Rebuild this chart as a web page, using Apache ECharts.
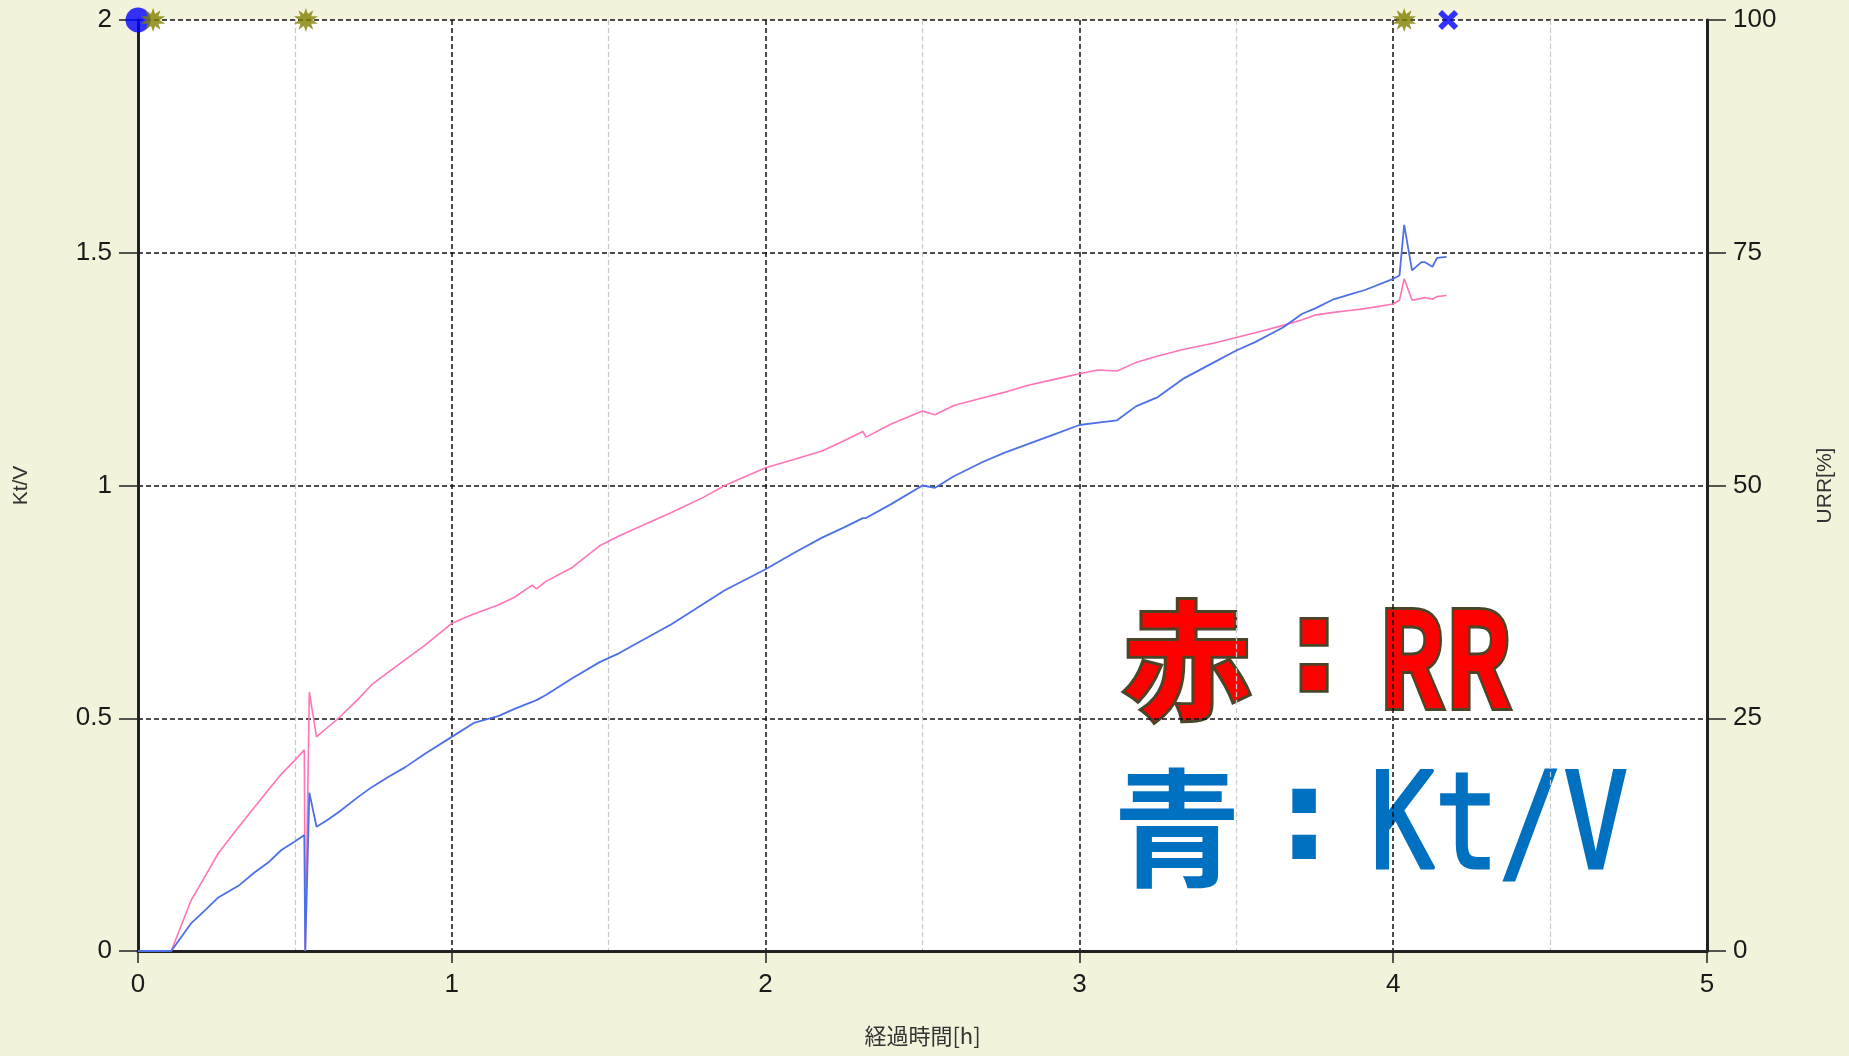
<!DOCTYPE html>
<html>
<head>
<meta charset="utf-8">
<script src="https://cdn.jsdelivr.net/npm/echarts@6/dist/echarts.min.js"></script>
<style>
  html, body { margin: 0; padding: 0; background: #f3f3dc; }
  #chart { width: 1849px; height: 1056px; }
</style>
</head>
<body>
<div id="chart"></div>
<script>
// elapsed time [h] shared by both curves
const hours = [
  0, 0.106, 0.17, 0.21, 0.256, 0.32, 0.37, 0.415, 0.457, 0.5, 0.53, 0.533, 0.546, 0.569,
  0.6, 0.639, 0.7, 0.745, 0.8, 0.852, 0.917, 1.0, 1.07, 1.15, 1.2, 1.256, 1.27, 1.3, 1.384,
  1.47, 1.534, 1.6, 1.7, 1.8, 1.87, 2.0, 2.09, 2.18, 2.25, 2.31, 2.32, 2.4, 2.5, 2.54, 2.6,
  2.69, 2.76, 2.84, 2.92, 3.0, 3.06, 3.12, 3.18, 3.25, 3.33, 3.43, 3.5, 3.56, 3.65, 3.71,
  3.75, 3.81, 3.86, 3.91, 4.0, 4.02, 4.035, 4.06, 4.09, 4.1, 4.125, 4.14, 4.17
]
// URR [%] (pink, right axis)
const rrValues = [
  0, 0, 5.5, 7.8, 10.5, 13.3, 15.4, 17.3, 19.0, 20.5, 21.6, 0, 27.8, 23.0,
  23.9, 25.0, 27.0, 28.6, 30.0, 31.3, 32.9, 35.2, 36.2, 37.2, 38.0, 39.3, 38.9, 39.7, 41.2,
  43.5, 44.6, 45.6, 47.1, 48.7, 50.0, 51.9, 52.8, 53.7, 54.8, 55.8, 55.2, 56.6, 58.0, 57.6, 58.6,
  59.4, 60.0, 60.8, 61.4, 62.0, 62.4, 62.3, 63.2, 63.9, 64.6, 65.3, 65.9, 66.4, 67.2, 67.8,
  68.3, 68.6, 68.8, 69.0, 69.5, 69.9, 72.2, 69.9, 70.1, 70.2, 70.0, 70.3, 70.4
]
// Kt/V (blue, left axis)
const ktvValues = [
  0, 0, 0.06, 0.085, 0.115, 0.14, 0.168, 0.19, 0.217, 0.235, 0.249, 0, 0.34, 0.267,
  0.28, 0.298, 0.33, 0.352, 0.375, 0.395, 0.425, 0.46, 0.49, 0.505, 0.52, 0.535, 0.539, 0.55, 0.586,
  0.62, 0.64, 0.665, 0.702, 0.745, 0.775, 0.82, 0.855, 0.888, 0.91, 0.93, 0.93, 0.96, 1.0, 0.995, 1.02,
  1.05, 1.07, 1.09, 1.11, 1.13, 1.135, 1.14, 1.17, 1.19, 1.229, 1.265, 1.29, 1.308, 1.34, 1.369,
  1.38, 1.4, 1.41, 1.42, 1.444, 1.451, 1.56, 1.462, 1.48, 1.48, 1.47, 1.489, 1.491
]
// event marks along the top edge (Kt/V = 2)
const startMark = [0]
const starMarks = [0.048, 0.535, 4.035]
const endMark = [4.175]
const markLevel = 2

const xTicks = [0, 1, 2, 3, 4, 5]
const ktvTicks = [0, 0.5, 1, 1.5, 2]
const urrTicks = [0, 25, 50, 75, 100]

// 10-point burst used for the olive markers
function burstPath() {
  let d = ''
  for (let i = 0; i < 20; i++) {
    const r = i % 2 === 0 ? 10 : 5.2
    const a = (Math.PI * i) / 10
    d += (i === 0 ? 'M' : 'L') + (10 + r * Math.sin(a)).toFixed(2) + ',' + (10 - r * Math.cos(a)).toFixed(2)
  }
  return 'path://' + d + 'Z'
}
const crossPath = 'path://M0,4 L4,0 L10,6 L16,0 L20,4 L14,10 L20,16 L16,20 L10,14 L4,20 L0,16 L6,10 Z'

const tickFont = '"Liberation Sans Narrow", "Liberation Sans", sans-serif'
const nameFont = '"Liberation Sans", Arial, sans-serif'

const chart = echarts.init(document.getElementById('chart'))

const pair = (xs, ys) => xs.map((x, i) => [x, ys[i]])

const redText = {
  fill: '#ff0000', stroke: '#4a4528', lineWidth: 6, strokeFirst: true,
  align: 'center', verticalAlign: 'middle',
  shadowColor: 'rgba(0,0,0,0.35)', shadowBlur: 4, shadowOffsetX: 2, shadowOffsetY: 2,
}
const blueText = {
  fill: '#0070c0', stroke: '#ffffff', lineWidth: 6, strokeFirst: true,
  align: 'center', verticalAlign: 'middle',
  shadowColor: 'rgba(0,0,0,0.35)', shadowBlur: 4, shadowOffsetX: 2, shadowOffsetY: 2,
}

const option = {
  backgroundColor: '#f3f3dc',
  animation: false,
  grid: {
    left: 138, right: 142, top: 20, bottom: 105,
    show: true, backgroundColor: '#ffffff', borderWidth: 0,
  },
  xAxis: {
    type: 'value',
    min: xTicks[0], max: xTicks[xTicks.length - 1], interval: 1,
    name: '経過時間[h]',
    nameLocation: 'middle',
    nameGap: 74,
    nameTextStyle: { fontFamily: '"Noto Sans CJK JP", sans-serif', fontSize: 22, color: '#333' },
    axisLine: { show: true, lineStyle: { color: '#222', width: 3 } },
    axisTick: { show: true, length: 12, lineStyle: { color: '#222', width: 1.5 } },
    axisLabel: { fontFamily: tickFont, fontSize: 26, color: '#1a1a1a', margin: 21 },
    splitLine: { show: true, lineStyle: { color: '#111', width: 1.5, type: [5, 3] } },
    minorTick: { show: false, splitNumber: 2 },
    minorSplitLine: { show: true, lineStyle: { color: '#c8c8c8', width: 1.2, type: [5, 3] } },
  },
  yAxis: [
    {
      type: 'value',
      min: ktvTicks[0], max: ktvTicks[ktvTicks.length - 1], interval: 0.5,
      name: 'Kt/V',
      nameLocation: 'middle',
      nameRotate: 90,
      nameGap: 106,
      nameTextStyle: { fontFamily: nameFont, fontSize: 21, color: '#333' },
      axisLine: { show: true, lineStyle: { color: '#222', width: 3 } },
      axisTick: { show: true, length: 19, lineStyle: { color: '#222', width: 1.5 } },
      axisLabel: { fontFamily: tickFont, fontSize: 26, color: '#1a1a1a', margin: 26 },
      splitLine: { show: true, lineStyle: { color: '#111', width: 1.5, type: [5, 3] } },
    },
    {
      type: 'value',
      min: urrTicks[0], max: urrTicks[urrTicks.length - 1], interval: 25,
      position: 'right',
      name: 'URR[%]',
      nameLocation: 'middle',
      nameRotate: 90,
      nameGap: 108,
      nameTextStyle: { fontFamily: nameFont, fontSize: 21, color: '#333' },
      axisLine: { show: true, lineStyle: { color: '#222', width: 3 } },
      axisTick: { show: true, length: 19, lineStyle: { color: '#222', width: 1.5 } },
      axisLabel: { fontFamily: tickFont, fontSize: 26, color: '#1a1a1a', margin: 26 },
      splitLine: { show: false },
    },
  ],
  series: [
    {
      name: 'RR',
      type: 'line',
      yAxisIndex: 1,
      data: pair(hours, rrValues),
      showSymbol: false,
      lineStyle: { color: '#ff74b6', width: 1.6 },
      z: 3,
    },
    {
      name: 'Kt/V',
      type: 'line',
      yAxisIndex: 0,
      data: pair(hours, ktvValues),
      showSymbol: false,
      lineStyle: { color: '#4e70e6', width: 1.8 },
      z: 3,
    },
    {
      type: 'scatter',
      yAxisIndex: 0,
      clip: false,
      data: startMark.map((x) => [x, markLevel]),
      symbol: 'circle',
      symbolSize: 25,
      itemStyle: { color: '#0000ff' },
      z: 5,
    },
    {
      type: 'scatter',
      yAxisIndex: 0,
      clip: false,
      data: starMarks.map((x) => [x, markLevel]),
      symbol: burstPath(),
      symbolSize: 24,
      itemStyle: { color: '#808000' },
      z: 6,
    },
    {
      type: 'scatter',
      yAxisIndex: 0,
      clip: false,
      data: endMark.map((x) => [x, markLevel]),
      symbol: crossPath,
      symbolSize: 20,
      itemStyle: { color: '#0000ff' },
      z: 6,
    },
  ],
  graphic: [
    {
      type: 'group',
      z: 100,
      children: [
        {
          type: 'text', x: 1187, y: 660,
          style: Object.assign({ text: '赤', font: 'bold 128px "Noto Sans CJK JP"' }, redText),
        },
        {
          type: 'text', x: 1314, y: 657, scaleX: 1.4, scaleY: 1.35,
          style: Object.assign({ text: ':', font: 'bold 95px "DejaVu Sans"' }, redText, { lineWidth: 4, shadowBlur: 2 }),
        },
        {
          type: 'text', x: 1445, y: 658, scaleX: 0.74,
          style: Object.assign({ text: 'RR', font: 'bold 132px "Noto Sans CJK JP"' }, redText),
        },
        {
          type: 'text', x: 1177, y: 828,
          style: Object.assign({ text: '青', font: 'bold 128px "Noto Sans CJK JP"' }, blueText),
        },
        {
          type: 'text', x: 1304, y: 826, scaleX: 1.4, scaleY: 1.35,
          style: Object.assign({ text: ':', font: 'bold 95px "DejaVu Sans"' }, blueText, { lineWidth: 4, shadowBlur: 2 }),
        },
        {
          type: 'text', x: 1499, y: 833, scaleX: 0.8,
          style: Object.assign({ text: 'Kt/V', font: '134px "DejaVu Sans Mono"' }, blueText, { lineWidth: 10 }),
        },
        {
          type: 'text', x: 1499, y: 833, scaleX: 0.8,
          style: {
            text: 'Kt/V', font: '134px "DejaVu Sans Mono"', fill: '#0070c0',
            stroke: '#0070c0', lineWidth: 3, align: 'center', verticalAlign: 'middle',
          },
        },
      ],
    },
  ],
}

chart.setOption(option)
window.addEventListener('resize', () => chart.resize())
</script>
</body>
</html>
